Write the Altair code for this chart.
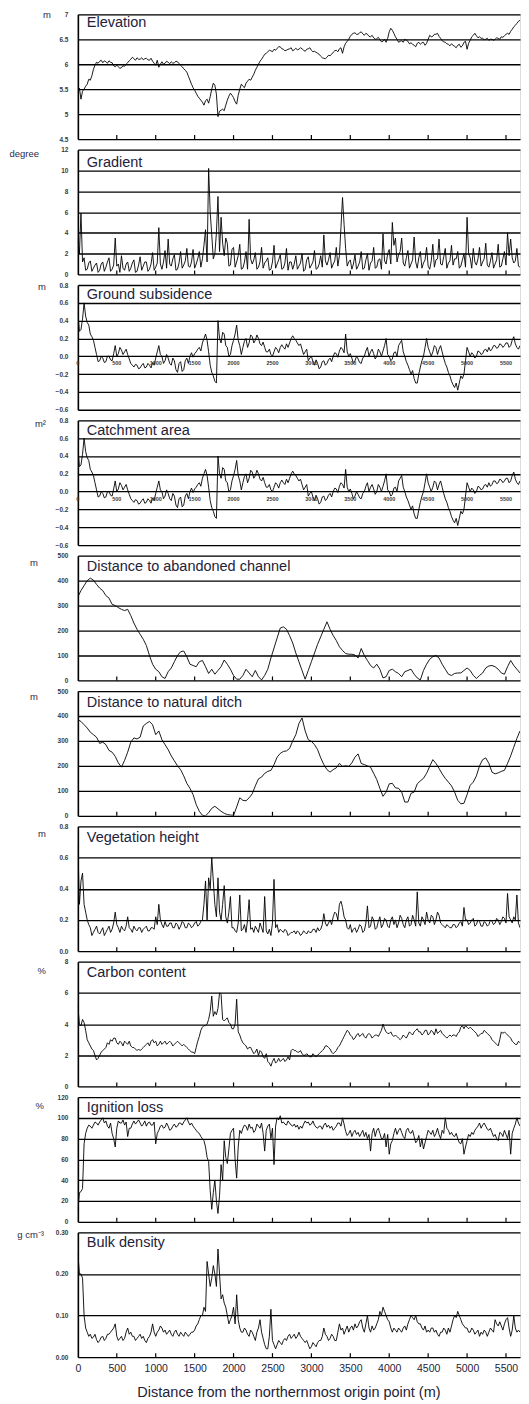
import altair as alt
import pandas as pd

FONT = "Liberation Sans"

# sample positions along the transect (m): main readings and in-between readings
dist = list(range(0, 5801, 40))
dist_mid = list(range(20, 5781, 40))

elevation = [
    5.45, 5.3, 5.5, 5.6, 5.68, 5.9, 6.04, 6.06, 6.03, 6.05,
    6.07, 6.03, 5.95, 5.95, 5.93, 5.96, 6.03, 6.1, 6.11, 6.13,
    6.1, 6.09, 6.12, 6.08, 6.06, 5.98, 5.94, 6.05, 6.02, 6.04,
    6.05, 6.03, 6.05, 5.98, 5.91, 5.84, 5.68, 5.53, 5.42, 5.32,
    5.24, 5.27, 5.22, 5.5, 5.58, 4.95, 5.08, 5.07, 5.28, 5.42,
    5.33, 5.2, 5.5, 5.56, 5.62, 5.7, 5.74, 5.88, 6.0, 6.1,
    6.2, 6.25, 6.27, 6.3, 6.32, 6.35, 6.3, 6.28, 6.31, 6.27,
    6.32, 6.3, 6.31, 6.26, 6.31, 6.28, 6.26, 6.22, 6.16, 6.12,
    6.14, 6.17, 6.24, 6.28, 6.31, 6.22, 6.42, 6.5, 6.6, 6.63,
    6.6, 6.65, 6.58, 6.6, 6.55, 6.53, 6.51, 6.49, 6.46, 6.44,
    6.65, 6.68, 6.55, 6.44, 6.47, 6.5, 6.46, 6.43, 6.38, 6.42,
    6.4, 6.44, 6.42, 6.58, 6.56, 6.6, 6.56, 6.47, 6.44, 6.4,
    6.41, 6.36, 6.38, 6.34, 6.44, 6.3, 6.48, 6.58, 6.57, 6.55,
    6.52, 6.5, 6.48, 6.5, 6.5, 6.52, 6.55, 6.57, 6.62, 6.66,
    6.75, 6.82, 6.88, 6.84, 6.76, 6.7,
]
elevation_mid = [
    5.52, 5.46, 5.56, 5.7, 5.77, 5.98, 6.02, 6.08, 6.07, 6.02,
    6.04, 5.97, 5.98, 5.92, 5.97, 6.0, 6.07, 6.14, 6.08, 6.1,
    6.13, 6.11, 6.09, 6.12, 6.02, 6.08, 6.0, 6.0, 6.06, 6.01,
    6.02, 6.06, 6.01, 5.95, 5.88, 5.76, 5.6, 5.48, 5.36, 5.28,
    5.18, 5.3, 5.35, 5.62, 5.4, 5.06, 5.1, 5.18, 5.36, 5.38,
    5.25, 5.38, 5.6, 5.53, 5.66, 5.68, 5.8, 5.94, 6.06, 6.15,
    6.22, 6.28, 6.25, 6.28, 6.35, 6.31, 6.27, 6.3, 6.33, 6.29,
    6.29, 6.33, 6.28, 6.3, 6.33, 6.25, 6.24, 6.2, 6.13, 6.11,
    6.18, 6.2, 6.27, 6.25, 6.33, 6.35, 6.46, 6.56, 6.62, 6.6,
    6.63, 6.61, 6.62, 6.56, 6.58, 6.5, 6.54, 6.45, 6.5, 6.52,
    6.72, 6.62, 6.5, 6.46, 6.44, 6.48, 6.41, 6.4, 6.35, 6.44,
    6.43, 6.38, 6.5, 6.55, 6.6, 6.62, 6.52, 6.45, 6.41, 6.37,
    6.38, 6.33, 6.4, 6.37, 6.46, 6.42, 6.55, 6.62, 6.53, 6.52,
    6.49, 6.52, 6.5, 6.48, 6.53, 6.5, 6.54, 6.6, 6.6, 6.7,
    6.78, 6.86, 6.9, 6.8, 6.72,
]

gradient = [
    3.2, 5.9, 1.6, 0.5, 1.3, 0.6, 1.1, 0.4, 1.2, 0.7,
    1.6, 0.5, 3.5, 1.0, 1.8, 0.4, 1.2, 0.6, 1.4, 0.3,
    1.7, 0.8, 1.2, 0.5, 2.1, 0.7, 4.5, 0.5, 2.3, 3.4,
    0.8, 1.9, 0.5, 2.2, 0.9, 2.5, 0.7, 2.4, 1.0, 2.2,
    1.5, 4.3, 10.2, 3.8, 2.0, 7.5, 5.5, 1.8, 3.0, 0.9,
    2.6, 1.2, 2.9, 0.6, 2.2, 5.3, 1.0, 2.1, 0.7, 2.6,
    1.1, 1.6, 0.5, 2.8, 1.0, 1.9, 0.6, 2.5, 1.2, 0.5,
    1.8, 0.8, 2.0, 0.5, 1.7, 0.9, 2.3, 0.6, 1.8, 3.8,
    0.9, 2.1, 1.0, 2.6, 1.8, 7.4, 2.5, 1.2, 0.5, 1.9,
    0.8, 2.2, 0.6, 2.0, 1.1, 2.6, 0.7, 1.5, 3.9, 1.0,
    2.4, 5.0, 3.5, 1.9, 3.5, 0.8, 2.3, 1.0, 3.6, 0.6,
    2.2, 1.1, 2.6, 0.5, 2.9, 1.4, 3.4, 0.9, 2.5, 1.1,
    2.8, 1.5, 2.2, 0.8, 2.0, 5.5, 1.6, 2.5, 0.9, 2.6,
    1.2, 3.0, 0.7, 2.1, 1.0, 2.9, 0.8, 2.2, 4.0, 3.4,
    1.1, 2.5, 0.7, 1.4, 0.6, 1.2,
]
gradient_mid = [
    2.0, 1.2, 0.4, 1.1, 0.3, 0.9, 0.2, 1.0, 0.3, 1.2,
    0.3, 0.9, 0.8, 0.2, 0.6, 1.0, 0.3, 1.1, 0.2, 0.9,
    0.4, 1.2, 0.3, 1.0, 0.4, 1.1, 1.0, 1.2, 0.6, 1.0,
    1.5, 0.4, 1.1, 0.6, 1.3, 0.8, 1.2, 0.6, 1.5, 0.7,
    2.8, 1.2, 6.0, 1.5, 4.0, 2.2, 3.0, 3.5, 0.8, 2.4,
    0.7, 1.8, 0.5, 1.2, 0.5, 1.5, 1.4, 0.5, 1.2, 0.6,
    1.3, 0.4, 1.2, 0.6, 1.4, 0.5, 1.1, 0.4, 1.2, 1.0,
    0.5, 1.1, 0.3, 1.4, 0.6, 1.2, 0.5, 1.0, 0.7, 1.3,
    1.4, 0.6, 1.3, 0.8, 4.5, 4.8, 0.8, 1.4, 1.0, 0.5,
    1.2, 0.5, 1.4, 0.4, 1.3, 0.6, 1.4, 0.5, 1.3, 2.0,
    1.0, 2.8, 1.2, 2.2, 1.1, 1.6, 0.6, 1.4, 1.2, 1.6,
    0.6, 1.4, 0.8, 1.3, 0.7, 1.5, 1.0, 1.7, 0.6, 1.3,
    0.9, 1.5, 0.6, 1.4, 0.7, 2.0, 0.6, 1.2, 1.5, 0.8,
    1.5, 0.9, 1.3, 0.6, 1.4, 0.7, 1.5, 0.9, 1.8, 1.6,
    1.3, 0.8, 1.2, 0.5, 1.1,
]

subsidence = [
    0.5, 0.3, 0.6, 0.38, 0.25, 0.18, 0.02, -0.05, -0.02, -0.06,
    0.0, -0.05, 0.12, 0.03, 0.07, 0.05, 0.02, -0.08, -0.12, -0.1,
    -0.13, -0.08, -0.12, -0.1, -0.07, -0.02, 0.12, 0.0, -0.05, -0.02,
    -0.1, -0.05, -0.18, -0.06, -0.15, -0.02, 0.0, -0.01, 0.05, 0.1,
    0.15, 0.25, 0.05, -0.18, -0.28, 0.4, 0.15, 0.25, 0.1, 0.02,
    0.18, 0.35, 0.12, 0.1, 0.2, 0.15, 0.22, 0.18, 0.2, 0.12,
    0.1, 0.05, 0.02, 0.05, 0.08, 0.1, 0.1, 0.14, 0.15, 0.23,
    0.18, 0.12, 0.08, 0.05, -0.05, 0.0, -0.1, -0.08, -0.12, -0.05,
    -0.08, -0.02, 0.0, 0.03, 0.06, 0.08, 0.25, 0.0, -0.02, -0.05,
    -0.03, -0.08, 0.0, 0.1, 0.05, 0.03, 0.0, 0.05, 0.06, 0.2,
    0.0, -0.03, 0.05, 0.12, 0.18, 0.0, -0.1, -0.2, -0.25, -0.3,
    -0.12, 0.0, 0.2, 0.05, 0.05, 0.1, 0.08, 0.05, -0.08, -0.18,
    -0.28, -0.35, -0.38, -0.22, -0.2, 0.1, 0.0, 0.02, 0.0, 0.05,
    0.03, 0.08, 0.1, 0.08, 0.12, 0.1, 0.13, 0.12, 0.15, 0.12,
    0.22, 0.1, 0.12, 0.1, 0.13, 0.12,
]
subsidence_mid = [
    0.28, 0.42, 0.45, 0.35, 0.22, 0.1, -0.06, 0.0, -0.07, 0.0,
    -0.04, 0.03, 0.0, 0.1, 0.02, 0.08, -0.03, -0.1, -0.09, -0.14,
    -0.1, -0.13, -0.08, -0.13, -0.1, 0.05, 0.02, -0.08, 0.02, -0.08,
    -0.02, -0.15, -0.08, -0.17, -0.05, -0.08, 0.04, 0.03, 0.08, 0.06,
    0.2, 0.18, -0.1, -0.22, -0.3, 0.2, 0.27, 0.12, 0.0, 0.12,
    0.25, 0.18, 0.02, 0.17, 0.1, 0.24, 0.15, 0.24, 0.14, 0.16,
    0.05, 0.08, 0.0, 0.1, 0.04, 0.13, 0.08, 0.1, 0.2, 0.2,
    0.15, 0.14, 0.02, 0.08, -0.02, -0.06, -0.04, -0.14, -0.06, -0.1,
    -0.04, -0.06, 0.04, -0.01, 0.1, 0.04, 0.05, 0.03, -0.08, 0.0,
    -0.07, -0.02, 0.06, 0.0, 0.08, -0.03, 0.08, 0.0, 0.12, 0.02,
    -0.05, 0.04, 0.0, 0.15, 0.05, -0.06, -0.15, -0.16, -0.3, -0.2,
    -0.05, 0.1, 0.1, 0.0, 0.12, 0.02, 0.12, -0.02, -0.12, -0.22,
    -0.32, -0.3, -0.3, -0.25, -0.05, 0.05, 0.04, -0.02, 0.06, 0.02,
    0.07, 0.05, 0.06, 0.12, 0.09, 0.14, 0.1, 0.15, 0.1, 0.18,
    0.14, 0.08, 0.13, 0.09, 0.1,
]

# the catchment-area panel of the figure shows the same trace
catchment = subsidence
catchment_mid = subsidence_mid

channel = [
    335, 360, 380, 400, 410, 402, 385, 370, 360, 340,
    330, 305, 300, 292, 285, 280, 285, 260, 230, 205,
    185, 165, 140, 100, 65, 45, 35, 15, 8, 35,
    50, 75, 100, 115, 118, 95, 65, 60, 55, 75,
    80, 55, 28, 45, 25, 40, 55, 82, 65, 45,
    20, 5, 5, 20, 45, 30, 15, 40, 15, 2,
    20, 45, 90, 130, 170, 210, 215, 205, 180, 150,
    110, 75, 40, 5, 40, 75, 110, 145, 175, 205,
    235, 205, 180, 160, 135, 120, 108, 105, 105, 102,
    90, 128, 100, 80, 60, 50, 65, 45, 10, 15,
    40, 45, 35, 28, 15, 35, 40, 45, 25, 10,
    2, 40, 65, 85, 95, 100, 90, 65, 45, 25,
    20, 28, 30, 30, 40, 50, 40, 20, 8, 20,
    30, 50, 58, 60, 55, 45, 30, 25, 55, 80,
    60, 45, 30, 15, 2, 10,
]

ditch = [
    385, 378, 365, 352, 335, 325, 315, 290, 295, 285,
    262, 255, 238, 212, 195, 222, 255, 295, 312, 308,
    315, 360, 370, 378, 365, 325, 340, 305, 285, 265,
    240, 220, 200, 185, 160, 130, 110, 85, 45, 18,
    2, 0, 12, 30, 38, 28, 18, 10, 5, 3,
    2, 35, 72, 62, 60, 72, 88, 120, 148, 155,
    170, 178, 182, 205, 235, 250, 258, 260, 270, 300,
    325, 370, 392, 340, 305, 298, 285, 265, 232, 205,
    185, 175, 185, 192, 210, 198, 200, 198, 212, 235,
    248, 210, 205, 200, 195, 170, 145, 110, 78, 95,
    128, 130, 112, 110, 95, 55, 55, 90, 95, 128,
    140, 150, 170, 198, 225, 210, 190, 168, 150, 135,
    120, 95, 62, 48, 50, 85, 122, 135, 160, 200,
    225, 232, 210, 175, 168, 172, 178, 182, 210, 240,
    275, 310, 340, 345, 320, 305,
]

vegetation = [
    0.68, 0.45, 0.3, 0.2, 0.15, 0.12, 0.16, 0.11, 0.15, 0.12,
    0.16, 0.14, 0.25, 0.15, 0.16, 0.13, 0.22, 0.14, 0.16, 0.13,
    0.15, 0.14, 0.16, 0.13, 0.15, 0.22, 0.3, 0.17, 0.19, 0.16,
    0.18, 0.15, 0.17, 0.16, 0.18, 0.15, 0.17, 0.16, 0.19, 0.17,
    0.2, 0.45, 0.47, 0.6, 0.3, 0.47, 0.2, 0.42, 0.18, 0.35,
    0.15, 0.12, 0.36, 0.14, 0.12, 0.33, 0.15, 0.16, 0.12, 0.15,
    0.35, 0.11, 0.1, 0.46, 0.17, 0.14, 0.12, 0.13, 0.11, 0.12,
    0.11, 0.12, 0.11, 0.12, 0.13, 0.12, 0.14, 0.15, 0.14, 0.24,
    0.16, 0.2, 0.22, 0.24, 0.3, 0.28, 0.2, 0.14, 0.12, 0.15,
    0.14, 0.16, 0.13, 0.29, 0.16, 0.2, 0.15, 0.22, 0.17, 0.2,
    0.15, 0.22, 0.2, 0.18, 0.21, 0.15, 0.22, 0.17, 0.2, 0.38,
    0.16, 0.2, 0.25, 0.18, 0.22, 0.2, 0.23, 0.17, 0.15, 0.16,
    0.15, 0.17, 0.16, 0.19, 0.28, 0.2, 0.18, 0.21, 0.17, 0.19,
    0.16, 0.18, 0.17, 0.19, 0.18, 0.2, 0.19, 0.21, 0.37, 0.2,
    0.22, 0.36, 0.15, 0.13, 0.14, 0.15,
]
vegetation_mid = [
    0.3, 0.5, 0.25, 0.17, 0.1, 0.14, 0.12, 0.13, 0.1, 0.14,
    0.12, 0.18, 0.17, 0.12, 0.14, 0.16, 0.15, 0.12, 0.14, 0.15,
    0.12, 0.15, 0.13, 0.15, 0.14, 0.17, 0.2, 0.15, 0.16, 0.18,
    0.15, 0.18, 0.14, 0.19, 0.15, 0.18, 0.15, 0.18, 0.16, 0.19,
    0.3, 0.2, 0.4, 0.45, 0.22, 0.25, 0.3, 0.22, 0.25, 0.15,
    0.13, 0.18, 0.13, 0.17, 0.2, 0.14, 0.12, 0.14, 0.18, 0.12,
    0.13, 0.14, 0.18, 0.15, 0.12, 0.13, 0.14, 0.1, 0.12, 0.13,
    0.13, 0.1, 0.13, 0.11, 0.12, 0.14, 0.12, 0.13, 0.17, 0.18,
    0.18, 0.17, 0.25, 0.2, 0.32, 0.22, 0.15, 0.17, 0.14, 0.12,
    0.17, 0.12, 0.18, 0.15, 0.22, 0.14, 0.19, 0.15, 0.21, 0.16,
    0.2, 0.17, 0.15, 0.23, 0.17, 0.2, 0.16, 0.23, 0.16, 0.18,
    0.22, 0.17, 0.2, 0.23, 0.17, 0.25, 0.18, 0.16, 0.17, 0.15,
    0.17, 0.15, 0.18, 0.16, 0.2, 0.17, 0.2, 0.16, 0.2, 0.16,
    0.19, 0.16, 0.2, 0.17, 0.21, 0.17, 0.22, 0.18, 0.22, 0.18,
    0.2, 0.18, 0.12, 0.15, 0.13,
]

carbon = [
    5.2, 3.9, 4.1, 3.0, 2.6, 2.3, 1.7, 2.0, 2.3, 2.5,
    2.7, 2.9, 3.1, 2.7, 2.8, 2.9, 2.7, 2.6, 2.5, 2.3,
    2.3, 2.5, 2.7, 2.6, 3.0, 2.9, 2.7, 2.7, 2.9, 2.8,
    2.8, 2.7, 2.9, 2.7, 2.7, 2.5, 2.3, 2.2, 2.5, 3.2,
    3.8, 3.9, 4.3, 5.8, 4.8, 5.0, 5.9, 4.2, 4.4, 4.0,
    3.7, 5.6, 3.3, 2.8, 2.6, 2.5, 2.3, 2.2, 2.0, 2.2,
    1.8, 1.6, 1.3, 1.8, 1.6, 1.6, 1.8, 1.7, 1.7, 2.4,
    2.3, 2.2, 2.1, 2.0, 2.0, 1.9, 2.0, 2.0, 2.2, 2.4,
    2.6, 2.4, 2.1, 2.3, 2.6, 3.0, 3.4, 3.5, 3.2, 3.1,
    3.4, 3.3, 3.2, 3.3, 3.3, 3.2, 3.3, 3.4, 4.0, 3.5,
    3.4, 3.3, 3.3, 3.1, 3.1, 3.2, 3.3, 3.4, 3.5, 3.7,
    3.5, 3.4, 3.6, 3.4, 3.5, 3.7, 3.5, 3.4, 3.2, 3.2,
    3.2, 3.3, 3.4, 3.8, 3.7, 3.8, 3.8, 3.6, 3.4, 3.3,
    3.4, 3.5, 3.3, 3.0, 2.8, 2.6, 3.5, 3.5, 3.3, 3.1,
    2.8, 2.7, 2.8, 3.0, 3.3, 3.4,
]
carbon_mid = [
    4.0, 4.3, 3.6, 2.8, 2.4, 2.0, 1.8, 2.2, 2.4, 2.8,
    3.0, 3.1, 2.8, 2.9, 2.6, 2.8, 2.9, 2.5, 2.4, 2.4,
    2.4, 2.6, 2.8, 2.9, 2.8, 2.6, 2.9, 2.8, 2.7, 2.9,
    2.6, 2.8, 2.8, 2.6, 2.6, 2.4, 2.2, 2.1, 2.9, 3.6,
    3.9, 4.0, 4.8, 4.5, 4.6, 6.0, 4.3, 4.3, 4.1, 3.7,
    4.0, 3.5, 3.0, 2.7, 2.4, 2.5, 2.1, 2.4, 2.3, 1.9,
    2.1, 1.5, 1.6, 1.5, 1.8, 1.7, 1.6, 1.9, 2.3, 2.3,
    2.2, 2.3, 2.0, 2.1, 1.9, 2.1, 1.9, 2.1, 2.3, 2.6,
    2.5, 2.2, 2.2, 2.5, 2.8, 3.2, 3.6, 3.3, 3.0, 3.3,
    3.2, 3.4, 3.1, 3.4, 3.1, 3.3, 3.2, 3.6, 3.7, 3.4,
    3.5, 3.2, 3.2, 3.0, 3.3, 3.1, 3.5, 3.3, 3.6, 3.5,
    3.3, 3.6, 3.3, 3.6, 3.3, 3.4, 3.6, 3.3, 3.1, 3.3,
    3.3, 3.2, 3.5, 3.9, 3.9, 3.7, 3.7, 3.5, 3.2, 3.4,
    3.6, 3.4, 3.2, 2.9, 2.7, 3.0, 3.4, 3.4, 3.2, 2.9,
    2.7, 2.9, 2.9, 3.2, 3.2,
]

ignition = [
    10, 29, 75, 90, 92, 93, 95, 96, 100, 97,
    90, 85, 72, 97, 95, 93, 82, 90, 97, 96,
    95, 94, 92, 96, 93, 75, 88, 93, 91, 92,
    89, 94, 92, 95, 96, 100, 93, 92, 88, 85,
    80, 72, 58, 12, 40, 8, 55, 78, 56, 85,
    90, 42, 88, 90, 92, 94, 91, 88, 92, 95,
    68, 92, 80, 55, 100, 102, 96, 93, 95, 92,
    91, 89, 90, 97, 96, 94, 93, 90, 92, 93,
    91, 90, 88, 92, 95, 100, 87, 85, 82, 88,
    86, 85, 82, 80, 68, 90, 88, 85, 80, 72,
    65, 78, 90, 88, 86, 80, 90, 85, 82, 78,
    72, 70, 82, 86, 88, 85, 84, 88, 100, 88,
    86, 82, 80, 75, 65, 78, 82, 84, 90, 95,
    93, 92, 88, 86, 84, 78, 85, 88, 80, 65,
    90, 100, 92, 88, 90, 89,
]
ignition_mid = [
    28, 32, 85, 93, 90, 96, 93, 98, 95, 92,
    95, 80, 90, 95, 98, 96, 90, 94, 94, 98,
    92, 97, 95, 93, 96, 85, 92, 90, 95, 88,
    92, 91, 95, 93, 98, 96, 95, 90, 86, 82,
    78, 62, 30, 28, 20, 25, 40, 62, 70, 88,
    60, 72, 85, 93, 88, 90, 86, 94, 90, 85,
    88, 94, 90, 92, 98, 95, 94, 97, 93, 94,
    93, 92, 94, 95, 93, 97, 91, 92, 89, 95,
    93, 92, 90, 95, 92, 94, 83, 88, 86, 84,
    82, 88, 86, 84, 85, 82, 90, 80, 85, 84,
    75, 85, 84, 90, 82, 88, 86, 88, 76, 83,
    80, 76, 88, 84, 82, 90, 80, 85, 90, 84,
    83, 85, 76, 80, 72, 84, 86, 88, 92, 90,
    95, 89, 90, 82, 80, 86, 82, 84, 88, 85,
    94, 95, 86, 92, 87,
]

bulk = [
    0.25, 0.2, 0.1, 0.06, 0.055, 0.048, 0.042, 0.04, 0.05, 0.045,
    0.055, 0.065, 0.08, 0.04, 0.05, 0.045, 0.07, 0.06, 0.05, 0.045,
    0.055, 0.05, 0.035, 0.05, 0.08, 0.05, 0.065, 0.07, 0.065, 0.06,
    0.055, 0.06, 0.055, 0.06, 0.05, 0.055, 0.055, 0.06, 0.075, 0.09,
    0.1, 0.11, 0.2, 0.19, 0.2, 0.26, 0.14, 0.13, 0.1, 0.09,
    0.12, 0.15, 0.07, 0.06, 0.065, 0.05, 0.06, 0.04, 0.07, 0.06,
    0.03, 0.02, 0.115, 0.03, 0.03, 0.035, 0.04, 0.04, 0.055, 0.05,
    0.045, 0.06, 0.045, 0.035, 0.03, 0.025, 0.03, 0.035, 0.04, 0.07,
    0.05, 0.045, 0.05, 0.04, 0.08, 0.07, 0.065, 0.06, 0.075, 0.08,
    0.075, 0.09, 0.06, 0.1, 0.06, 0.065, 0.08, 0.11, 0.12, 0.1,
    0.085, 0.06, 0.065, 0.07, 0.06, 0.075, 0.08, 0.1, 0.09, 0.085,
    0.08, 0.065, 0.06, 0.06, 0.07, 0.065, 0.05, 0.06, 0.065, 0.07,
    0.075, 0.1, 0.11, 0.09, 0.075, 0.07, 0.06, 0.065, 0.06, 0.05,
    0.055, 0.06, 0.06, 0.065, 0.09, 0.075, 0.075, 0.08, 0.095, 0.05,
    0.1, 0.06, 0.06, 0.055, 0.06, 0.06,
]
bulk_mid = [
    0.2, 0.19, 0.07, 0.05, 0.045, 0.055, 0.035, 0.048, 0.04, 0.055,
    0.06, 0.07, 0.05, 0.045, 0.04, 0.06, 0.055, 0.05, 0.04, 0.05,
    0.045, 0.04, 0.045, 0.06, 0.06, 0.06, 0.075, 0.06, 0.055, 0.065,
    0.05, 0.065, 0.05, 0.055, 0.06, 0.05, 0.06, 0.065, 0.08, 0.1,
    0.12, 0.23, 0.17, 0.22, 0.17, 0.2, 0.15, 0.12, 0.08, 0.1,
    0.08, 0.09, 0.06, 0.07, 0.055, 0.065, 0.05, 0.06, 0.09, 0.045,
    0.02, 0.05, 0.04, 0.02, 0.04, 0.03, 0.045, 0.05, 0.045, 0.055,
    0.05, 0.05, 0.04, 0.04, 0.02, 0.035, 0.025, 0.04, 0.05, 0.055,
    0.04, 0.055, 0.04, 0.06, 0.065, 0.055, 0.075, 0.07, 0.065, 0.07,
    0.085, 0.07, 0.08, 0.07, 0.075, 0.07, 0.09, 0.1, 0.11, 0.09,
    0.07, 0.07, 0.06, 0.065, 0.07, 0.065, 0.09, 0.095, 0.1, 0.08,
    0.07, 0.075, 0.065, 0.07, 0.06, 0.055, 0.06, 0.07, 0.055, 0.06,
    0.09, 0.095, 0.1, 0.08, 0.07, 0.06, 0.07, 0.055, 0.065, 0.06,
    0.065, 0.05, 0.07, 0.06, 0.08, 0.085, 0.065, 0.09, 0.07, 0.065,
    0.07, 0.065, 0.05, 0.065, 0.055,
]

x_ticks = [0, 500, 1000, 1500, 2000, 2500, 3000, 3500, 4000, 4500, 5000, 5500]
x_tick_labels = ["0", "500", "1000", "1500", "2000", "2500", "3000", "3500",
                 "4000", "4500", "5000", "5500"]

X_MAX = 5680
X_DOMAIN = [0, X_MAX]
W = 443
H = 125


def merged(main, mid):
    xs, ys = [], []
    for i, v in enumerate(main):
        xs.append(dist[i])
        ys.append(v)
        if mid is not None and i < len(mid):
            xs.append(dist_mid[i])
            ys.append(mid[i])
    df = pd.DataFrame({"x": xs, "y": ys})
    return df[df["x"] <= X_MAX]


def panel(name, main, mid, dom, ticks, fmt, unit, ux, uy, ty,
          inner_labels=False, bottom=False, anchor=False):
    xs = alt.Scale(domain=X_DOMAIN, nice=False, zero=False)
    ys = alt.Scale(domain=dom, nice=False, zero=False)
    df = merged(main, mid)
    yaxis = alt.Axis(values=ticks, format=fmt, grid=True, gridColor="black",
                     gridWidth=1.3, gridOpacity=1, domain=True,
                     domainColor="black", domainWidth=1.6, ticks=False,
                     tickSize=0, labelFontSize=6.5, labelFontWeight="bold",
                     labelColor="#3a3a3a", labelPadding=10, labelOverlap=False,
                     labelFont=FONT, title=None)
    if bottom:
        xaxis = alt.Axis(values=x_ticks, format="d", grid=False, domain=False,
                         ticks=False, tickSize=0, labelFontSize=10.5,
                         labelColor="#222238", labelFont=FONT, labelPadding=6,
                         labelFlush=False, labelOverlap=False,
                         title="Distance from the northernmost origin point (m)",
                         titleFont=FONT, titleFontSize=14.5,
                         titleFontWeight="normal", titleColor="#222238",
                         titleX=211, titleY=35, titleBaseline="middle",
                         titleAlign="center")
    else:
        xaxis = None
    line = alt.Chart(df).mark_line(color="black", strokeWidth=0.9, clip=True).encode(
        x=alt.X("x:Q", scale=xs, axis=xaxis),
        y=alt.Y("y:Q", scale=ys, axis=yaxis),
    )
    title = alt.Chart(pd.DataFrame({"t": [name]})).mark_text(
        align="left", baseline="alphabetic", fontSize=14.5, font=FONT,
        color="#22223a").encode(x=alt.value(9), y=alt.value(ty), text="t:N")
    unit_t = alt.Chart(pd.DataFrame({"u": [unit]})).mark_text(
        align="right", baseline="middle", fontSize=9.5, font=FONT,
        color="#2a2a4a").encode(x=alt.value(ux), y=alt.value(uy), text="u:N")
    layers = [line, title, unit_t]
    if inner_labels:
        lab_df = pd.DataFrame({"t": x_ticks, "l": x_tick_labels,
                               "z": [0] * len(x_ticks)})
        labs = alt.Chart(lab_df).mark_text(
            fontSize=5.5, baseline="middle", dy=7, font=FONT,
            fontWeight="bold", color="#3a3a3a").encode(
            x=alt.X("t:Q", scale=xs, axis=xaxis),
            y=alt.Y("z:Q", scale=ys, axis=yaxis),
            text="l:N")
        layers.append(labs)
    else:
        tk = alt.Chart(pd.DataFrame({"t": x_ticks[1:]})).mark_rule(
            color="black", strokeWidth=1.2).encode(
            x=alt.X("t:Q", scale=xs, axis=xaxis),
            y=alt.value(H), y2=alt.value(H - 4))
        layers.append(tk)
    if anchor:
        anc = alt.Chart(pd.DataFrame({"a": [0]})).mark_rule(
            color="white", strokeWidth=0.5).encode(
            x=alt.value(-68), x2=alt.value(-68),
            y=alt.value(20), y2=alt.value(30))
        layers.append(anc)
    return alt.layer(*layers).properties(width=W, height=H)


panels = [
    panel("Elevation", elevation, elevation_mid, [4.5, 7],
          [4.5, 5, 5.5, 6, 6.5, 7], "", "m", -27, 1, 12.4, anchor=True),
    panel("Gradient", gradient, gradient_mid, [0, 12],
          [0, 2, 4, 6, 8, 10, 12], "d", "degree", -39, 4, 17),
    panel("Ground subsidence", subsidence, subsidence_mid, [-0.6, 0.8],
          [-0.6, -0.4, -0.2, 0.0, 0.2, 0.4, 0.6, 0.8], ".1f",
          "m", -32, 2, 13.6, inner_labels=True),
    panel("Catchment area", catchment, catchment_mid, [-0.6, 0.8],
          [-0.6, -0.4, -0.2, 0.0, 0.2, 0.4, 0.6, 0.8], ".1f",
          "m²", -32, 4, 14.6, inner_labels=True),
    panel("Distance to abandoned channel", channel, None, [0, 500],
          [0, 100, 200, 300, 400, 500], "d", "m", -40, 7, 15.6),
    panel("Distance to natural ditch", ditch, None, [0, 500],
          [0, 100, 200, 300, 400, 500], "d", "m", -40, 6, 16.4),
    panel("Vegetation height", vegetation, vegetation_mid, [0, 0.8],
          [0.0, 0.2, 0.4, 0.6, 0.8], ".1f", "m", -32, 8, 15.4),
    panel("Carbon content", carbon, carbon_mid, [0, 8], [0, 2, 4, 6, 8], "d",
          "%", -32, 9, 15.4),
    panel("Ignition loss", ignition, ignition_mid, [0, 120],
          [0, 20, 40, 60, 80, 100, 120], "d", "%", -34, 9, 14.6),
    panel("Bulk density", bulk, bulk_mid, [0, 0.3], [0.0, 0.1, 0.2, 0.3], ".2f",
          "g cm⁻³", -34, 3, 14.6, bottom=True),
]

chart = alt.vconcat(*panels, spacing=10.6, bounds="flush").properties(
    padding={"left": 0, "top": 0, "right": 0, "bottom": 0}
).configure_view(stroke=None).configure(background="white")

chart.save("out.html", embed_options={"renderer": "svg", "actions": False})
